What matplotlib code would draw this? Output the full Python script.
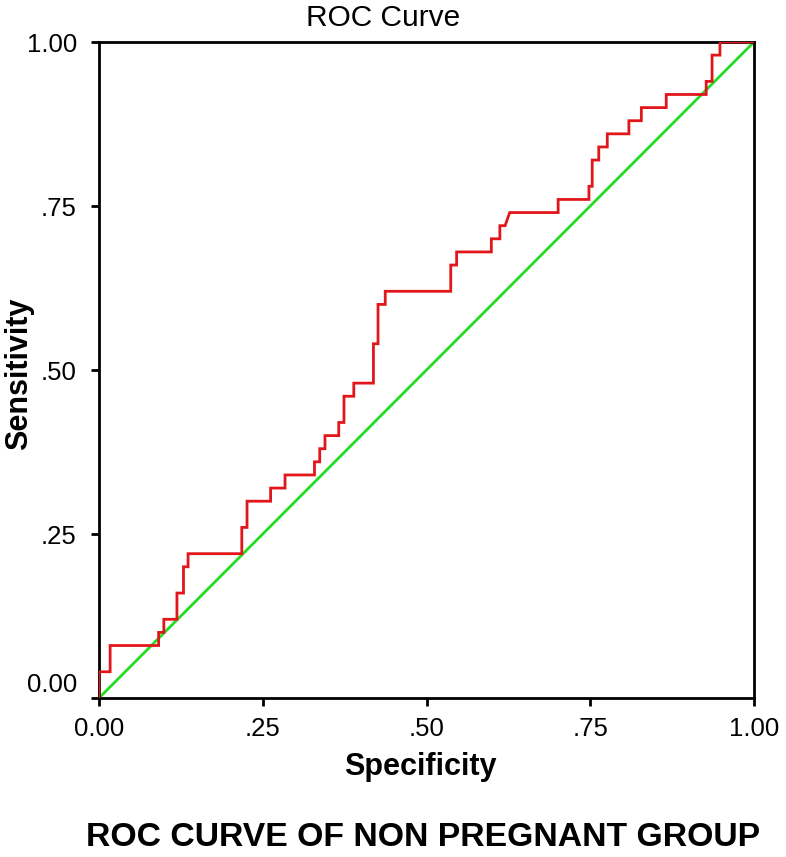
import matplotlib
matplotlib.use("Agg")
import matplotlib.pyplot as plt
from matplotlib.transforms import ScaledTranslation

# ROC step curve vertices (x = 1 - specificity axis, y = sensitivity)
roc_x = [0.000, 0.000, 0.017, 0.017, 0.091, 0.091, 0.099, 0.099, 0.119, 0.119,
         0.129, 0.129, 0.136, 0.136, 0.218, 0.218, 0.226, 0.226, 0.262, 0.262,
         0.284, 0.284, 0.329, 0.329, 0.337, 0.337, 0.345, 0.345, 0.366, 0.366,
         0.374, 0.374, 0.389, 0.389, 0.419, 0.419, 0.426, 0.426, 0.437, 0.437,
         0.537, 0.537, 0.546, 0.546, 0.599, 0.599, 0.612, 0.612, 0.620, 0.627,
         0.701, 0.701, 0.748, 0.748, 0.753, 0.753, 0.763, 0.763, 0.776, 0.776,
         0.809, 0.809, 0.828, 0.828, 0.866, 0.866, 0.927, 0.927, 0.936, 0.936,
         0.948, 0.948, 1.000]
roc_y = [0.00, 0.04, 0.04, 0.08, 0.08, 0.10, 0.10, 0.12, 0.12, 0.16,
         0.16, 0.20, 0.20, 0.22, 0.22, 0.26, 0.26, 0.30, 0.30, 0.32,
         0.32, 0.34, 0.34, 0.36, 0.36, 0.38, 0.38, 0.40, 0.40, 0.42,
         0.42, 0.46, 0.46, 0.48, 0.48, 0.54, 0.54, 0.60, 0.60, 0.62,
         0.62, 0.66, 0.66, 0.68, 0.68, 0.70, 0.70, 0.72, 0.72, 0.74,
         0.74, 0.76, 0.76, 0.78, 0.78, 0.82, 0.82, 0.84, 0.84, 0.86,
         0.86, 0.88, 0.88, 0.90, 0.90, 0.92, 0.92, 0.94, 0.94, 0.98,
         0.98, 1.00, 1.00]

ref_x = [0.0, 1.0]
ref_y = [0.0, 1.0]

tick_vals = [0.0, 0.25, 0.5, 0.75, 1.0]
tick_labels = ["0.00", ".25", ".50", ".75", "1.00"]

plt.rcParams['font.family'] = ['Liberation Sans', 'DejaVu Sans']

W, H, DPI = 786, 857, 100
fig = plt.figure(figsize=(W / DPI, H / DPI), dpi=DPI)
ax = fig.add_axes([99 / W, 1 - 698 / H, (754 - 99) / W, (698 - 42) / H])

ax.plot(ref_x, ref_y, color='#22dd22', lw=2.0, zorder=2)
ax.plot(roc_x, roc_y, color='#e0161b', lw=2.0, zorder=3, solid_joinstyle='miter')

ax.set_xlim(0, 1)
ax.set_ylim(0, 1)
ax.set_xticks(tick_vals)
ax.set_xticklabels(tick_labels)
ax.set_yticks(tick_vals)
ax.set_yticklabels(tick_labels)

for s in ax.spines.values():
    s.set_linewidth(2.0)
    s.set_color('black')

ax.tick_params(axis='both', length=6, width=2.0, labelsize=18.5, colors='black')
ax.tick_params(axis='y', pad=10)
ax.tick_params(axis='x', pad=8)

# SPSS places the 0.00 sensitivity label slightly above its tick
lab0 = ax.get_yticklabels()[0]
lab0.set_transform(lab0.get_transform() + ScaledTranslation(0, 16 / DPI, fig.dpi_scale_trans))

fig.text(383.5 / W, 1 - 18 / H, "ROC Curve", ha='center', va='center', fontsize=21.5)
fig.text(19 / W, 1 - 374 / H, "Sensitivity", rotation=90, ha='center', va='center',
         fontsize=22, fontweight='bold')
fig.text(420 / W, 1 - 767 / H, "Specificity", ha='center', va='center',
         fontsize=22, fontweight='bold')
fig.text(423 / W, 1 - 837 / H, "ROC CURVE OF NON PREGNANT GROUP", ha='center', va='center',
         fontsize=24.3, fontweight='bold')

fig.savefig("out.png", dpi=DPI)
